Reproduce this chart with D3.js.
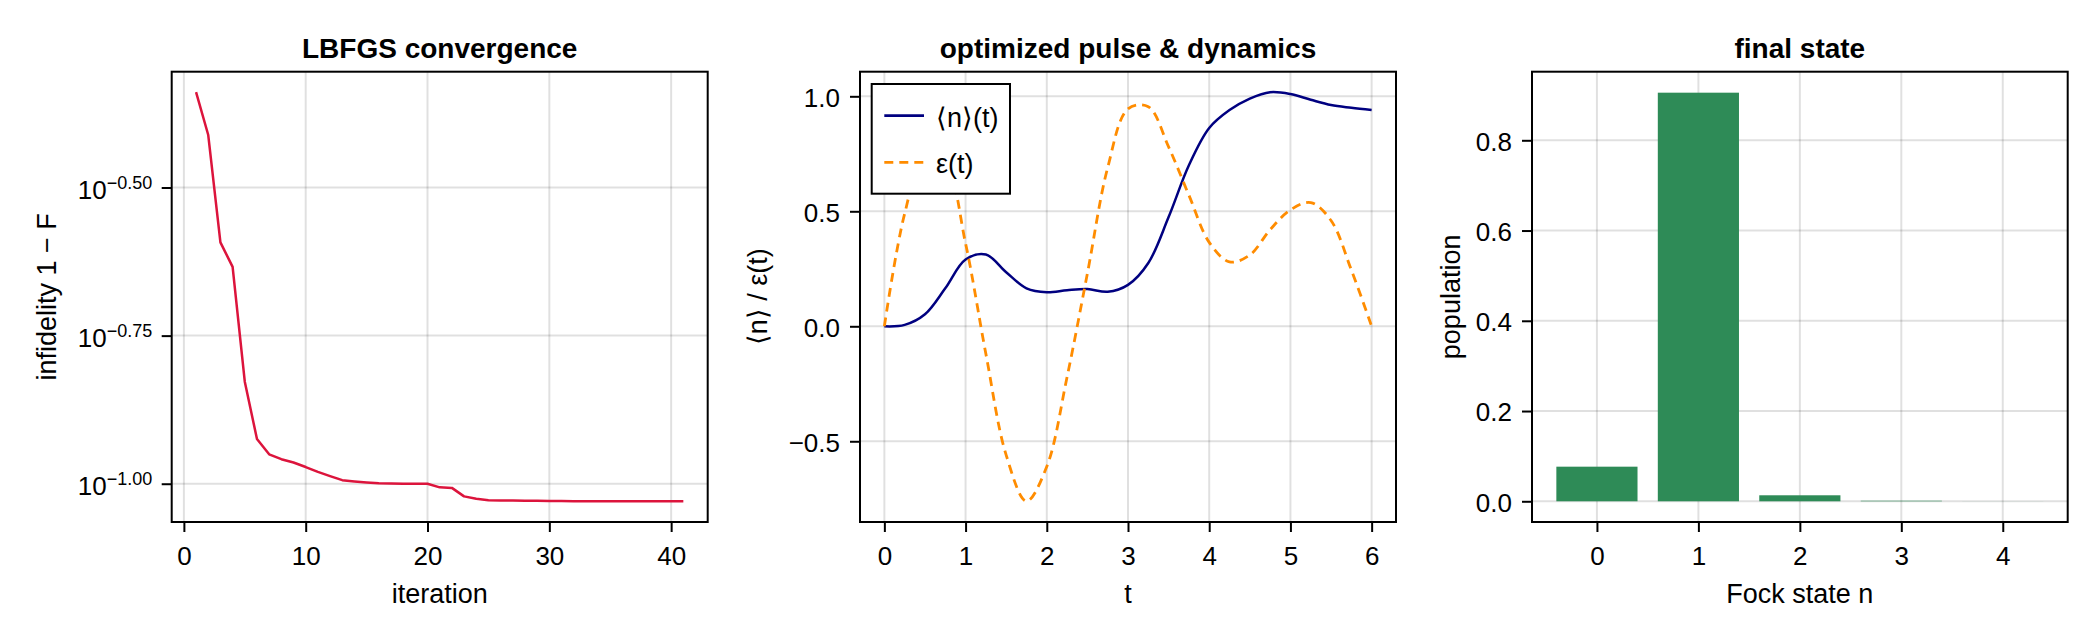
<!DOCTYPE html>
<html>
<head>
<meta charset="utf-8">
<script src="https://cdn.jsdelivr.net/npm/d3@7"></script>
<style>
  body { margin: 0; background: white; }
  svg text { font-family: "Liberation Sans", Arial, Helvetica, sans-serif; fill: black; }
</style>
</head>
<body>
<svg id="chart" width="2100" height="640"></svg>
<script>
// ---- data ----
// panel 1: infidelity per LBFGS iteration (iterations 1..41)
var infidelity = [0.4581, 0.3878, 0.2555, 0.2323, 0.1487, 0.1190, 0.1121, 0.1100, 0.1086, 0.1067,
                  0.1047, 0.1030, 0.1014, 0.1009, 0.1005, 0.1002, 0.1001, 0.1000, 0.1000, 0.1000,
                  0.0986, 0.0984, 0.0952, 0.0943, 0.0938, 0.0937, 0.0937, 0.0936, 0.0936, 0.0935,
                  0.0935, 0.0934, 0.0934, 0.0934, 0.0934, 0.0934, 0.0934, 0.0934, 0.0934, 0.0934, 0.0934];
var iterTicks = [0, 10, 20, 30, 40];
var logTicks = [-0.5, -0.75, -1.0];

// panel 2: time grid, <n>(t) and pulse eps(t)
var tGrid = [0, 0.25, 0.5, 0.75, 1.0, 1.25, 1.5, 1.75, 2.0, 2.25, 2.5, 2.75, 3.0,
             3.25, 3.5, 3.75, 4.0, 4.25, 4.5, 4.75, 5.0, 5.25, 5.5, 5.75, 6.0];
var nMean = [0.0, 0.006, 0.052, 0.165, 0.290, 0.312, 0.235, 0.165, 0.148, 0.157, 0.162, 0.150, 0.180,
             0.275, 0.475, 0.700, 0.862, 0.940, 0.990, 1.018, 1.010, 0.985, 0.962, 0.950, 0.940];
var pulse = [0.0, 0.49, 0.745, 0.71, 0.36, -0.12, -0.56, -0.76, -0.61, -0.22, 0.23, 0.69, 0.945,
             0.955, 0.78, 0.57, 0.365, 0.28, 0.31, 0.42, 0.506, 0.538, 0.46, 0.245, 0.0];
var seriesNames = ["\u27E8n\u27E9(t)", "\u03B5(t)"];
var tTicks = [0, 1, 2, 3, 4, 5, 6];
var dynTicks = [-0.5, 0.0, 0.5, 1.0];

// panel 3: final Fock-state populations
var fockStates = [0, 1, 2, 3, 4];
var population = [0.0767, 0.9055, 0.0133, 0.0012, 0.0001];
var popTicks = [0.0, 0.2, 0.4, 0.6, 0.8];

// ---- layout ----
var plotTop = 71.7, plotBottom = 522;
var panels = [
  { left: 171.7, right: 707.7 },
  { left: 860, right: 1396 },
  { left: 1532, right: 2067.7 }
];
var tickFont = 26, labelFont = 27, titleFont = 28;
var gridColor = "rgba(0,0,0,0.12)";

var svg = d3.select("#chart");
svg.append("rect").attr("width", 2100).attr("height", 640).attr("fill", "white");

function drawFrame(p, x, y, xTicks, yTicks, xFmt, yFmt, title, xLabel, yLabel, yLabelX) {
  var g = svg.append("g");
  // grid
  g.selectAll(".gx").data(xTicks).enter().append("line")
    .attr("x1", d => x(d)).attr("x2", d => x(d))
    .attr("y1", plotTop).attr("y2", plotBottom)
    .attr("stroke", gridColor).attr("stroke-width", 2);
  g.selectAll(".gy").data(yTicks).enter().append("line")
    .attr("x1", p.left).attr("x2", p.right)
    .attr("y1", d => y(d)).attr("y2", d => y(d))
    .attr("stroke", gridColor).attr("stroke-width", 2);

  var xa = svg.append("g").attr("transform", "translate(0," + plotBottom + ")")
    .call(d3.axisBottom(x).tickValues(xTicks).tickFormat(xFmt).tickSize(10).tickSizeOuter(0).tickPadding(14.5));
  xa.select(".domain").remove();
  xa.selectAll("line").attr("stroke", "black").attr("stroke-width", 2);
  xa.selectAll("text").attr("font-size", tickFont).attr("font-family", null).attr("fill", "black");

  var ya = svg.append("g").attr("transform", "translate(" + p.left + ",0)")
    .call(d3.axisLeft(y).tickValues(yTicks).tickFormat(yFmt).tickSize(10).tickSizeOuter(0).tickPadding(10));
  ya.select(".domain").remove();
  ya.selectAll("line").attr("stroke", "black").attr("stroke-width", 2);
  ya.selectAll("text").attr("font-size", tickFont).attr("font-family", null).attr("fill", "black").attr("dy", "0.38em");

  svg.append("text")
    .attr("x", (p.left + p.right) / 2).attr("y", 58.3)
    .attr("text-anchor", "middle").attr("font-size", titleFont).attr("font-weight", "bold")
    .text(title);
  svg.append("text")
    .attr("x", (p.left + p.right) / 2).attr("y", 602.5)
    .attr("text-anchor", "middle").attr("font-size", labelFont)
    .text(xLabel);
  svg.append("text")
    .attr("transform", "translate(" + yLabelX + "," + ((plotTop + plotBottom) / 2) + ") rotate(-90)")
    .attr("text-anchor", "middle").attr("font-size", labelFont)
    .text(yLabel);
  return ya;
}

function drawBox(p) {
  svg.append("rect")
    .attr("x", p.left).attr("y", plotTop)
    .attr("width", p.right - p.left).attr("height", plotBottom - plotTop)
    .attr("fill", "none").attr("stroke", "black").attr("stroke-width", 2);
}

// ---- panel 1: LBFGS convergence ----
var p1 = panels[0];
var x1 = d3.scaleLinear().domain([-1, 43]).range([p1.left, p1.right]);
var y1 = d3.scaleLog().domain([Math.pow(10, -1.0646), Math.pow(10, -0.3045)]).range([plotBottom, plotTop]);
var logVals = logTicks.map(e => Math.pow(10, e));
var ya1 = drawFrame(p1, x1, y1, iterTicks, logVals, d3.format("d"), () => "",
  "LBFGS convergence", "iteration", "infidelity 1 \u2212 F", 56);
ya1.selectAll(".tick text").remove();
var expFmt = d3.format(".2f");
logVals.forEach(function(v) {
  var t = svg.append("text")
    .attr("x", p1.left - 19.5).attr("y", y1(v) + 11.5)
    .attr("text-anchor", "end").attr("font-size", tickFont);
  t.append("tspan").text("10");
  t.append("tspan").attr("font-size", 18).attr("dy", -10.5).text(expFmt(Math.log10(v)));
});
svg.append("path")
  .datum(infidelity)
  .attr("fill", "none").attr("stroke", "crimson").attr("stroke-width", 2.5)
  .attr("stroke-linejoin", "round")
  .attr("d", d3.line().x((d, i) => x1(i + 1)).y(d => y1(d)));
drawBox(p1);

// ---- panel 2: optimized pulse & dynamics ----
var p2 = panels[1];
var x2 = d3.scaleLinear().domain([-0.3, 6.3]).range([p2.left, p2.right]);
var y2 = d3.scaleLinear().domain([-0.851, 1.107]).range([plotBottom, plotTop]);
drawFrame(p2, x2, y2, tTicks, dynTicks, d3.format("d"), d3.format(".1f"),
  "optimized pulse & dynamics", "t", "\u27E8n\u27E9 / \u03B5(t)", 767);
var line2 = d3.line().curve(d3.curveCatmullRom).x((d, i) => x2(tGrid[i])).y(d => y2(d));
svg.append("path").datum(nMean)
  .attr("fill", "none").attr("stroke", "navy").attr("stroke-width", 2.5)
  .attr("d", line2);
svg.append("path").datum(pulse)
  .attr("fill", "none").attr("stroke", "darkorange").attr("stroke-width", 2.8)
  .attr("stroke-dasharray", "9,6")
  .attr("d", line2);

// legend
var lg = svg.append("g");
lg.append("rect").attr("x", 871.7).attr("y", 84).attr("width", 138.3).attr("height", 109.7)
  .attr("fill", "white").attr("stroke", "black").attr("stroke-width", 2);
var legendStyles = [
  { color: "navy", dash: null, y: 115.7 },
  { color: "darkorange", dash: "9,6", y: 162.3 }
];
seriesNames.forEach(function(name, i) {
  var s = legendStyles[i];
  lg.append("line").attr("x1", 884.3).attr("x2", 924).attr("y1", s.y).attr("y2", s.y)
    .attr("stroke", s.color).attr("stroke-width", 2.8).attr("stroke-dasharray", s.dash);
  lg.append("text").attr("x", 936).attr("y", s.y + 10.8).attr("font-size", labelFont).text(name);
});
drawBox(p2);

// ---- panel 3: final state ----
var p3 = panels[2];
var x3 = d3.scaleLinear().domain([-0.64, 4.64]).range([p3.left, p3.right]);
var y3 = d3.scaleLinear().domain([-0.0459, 0.952]).range([plotBottom, plotTop]);
drawFrame(p3, x3, y3, fockStates, popTicks, d3.format("d"), d3.format(".1f"),
  "final state", "Fock state n", "population", 1459.5);
svg.append("g").selectAll("rect").data(population).enter().append("rect")
  .attr("x", (d, i) => x3(fockStates[i] - 0.4))
  .attr("width", (d, i) => x3(fockStates[i] + 0.4) - x3(fockStates[i] - 0.4))
  .attr("y", d => y3(d))
  .attr("height", d => y3(0) - y3(d))
  .attr("fill", "seagreen");
drawBox(p3);
</script>
</body>
</html>
